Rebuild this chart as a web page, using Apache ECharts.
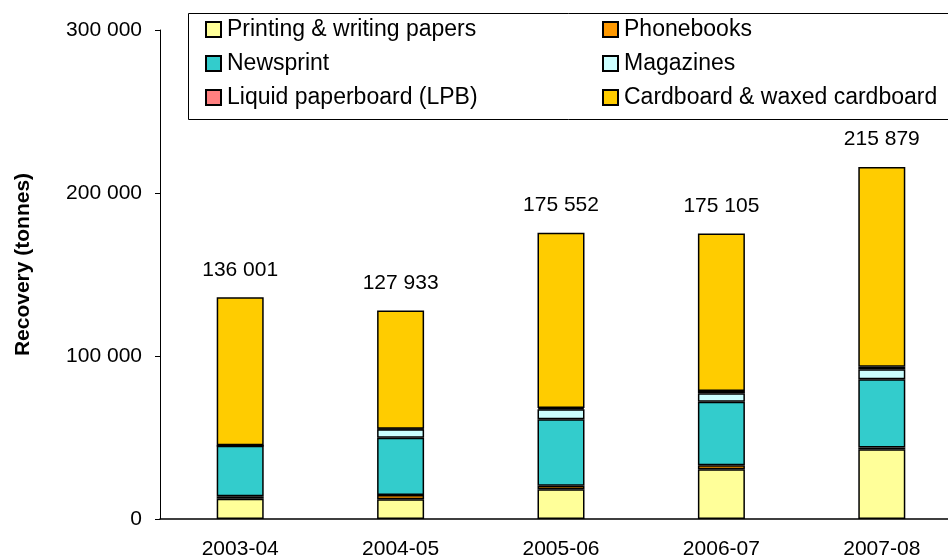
<!DOCTYPE html>
<html><head><meta charset="utf-8">
<script src="https://cdn.jsdelivr.net/npm/echarts@6/dist/echarts.min.js"></script>
<style>html,body{margin:0;padding:0;background:#fff}#c{width:948px;height:560px}</style>
</head><body><div id="c"></div>
<script>
const categories = ['2003-04','2004-05','2005-06','2006-07','2007-08'];
const printing   = [12500, 12100, 18200, 30500, 42800];
const phonebooks = [1500, 2600, 2200, 2400, 1000];
const newsprint  = [31000, 35200, 40800, 39100, 41900];
const magazines  = [0, 5100, 6100, 5100, 6100];
const lpb        = [300, 300, 800, 1400, 1600];
const cardboard  = [90701, 72633, 107452, 96605, 122479];
const totals     = ['136 001','127 933','175 552','175 105','215 879'];
const yTicks     = [0, 100000, 200000, 300000];

const FONT = 'Liberation Sans';
function mk(name, data, color, extra) {
  return Object.assign({
    name, type: 'bar', stack: 'a', data, barWidth: 47,
    itemStyle: { color, borderColor: '#000', borderWidth: 1.5 },
    emphasis: { disabled: true }
  }, extra || {});
}
const legendText = { fontSize: 23, color: '#000', fontFamily: FONT, padding: [0,0,0,1] };
const chart = echarts.init(document.getElementById('c'), null, { renderer: 'canvas' });
chart.setOption({
  animation: false,
  textStyle: { fontFamily: FONT },
  grid: { left: 160, top: 30, width: 802, height: 489, outerBoundsMode: 'none', containLabel: false },
  legend: [
    { orient: 'vertical', left: 200, top: 13, itemGap: 11, itemWidth: 15, itemHeight: 15,
      data: ['Printing & writing papers', 'Newsprint', 'Liquid paperboard (LPB)'],
      textStyle: legendText, icon: 'rect', selectedMode: false },
    { orient: 'vertical', left: 597, top: 13, itemGap: 11, itemWidth: 15, itemHeight: 15,
      data: ['Phonebooks', 'Magazines', 'Cardboard & waxed cardboard'],
      textStyle: legendText, icon: 'rect', selectedMode: false }
  ],
  graphic: [{ type: 'rect', left: 186, top: 11, shape: { width: 780, height: 106 },
    style: { fill: 'none', stroke: '#000', lineWidth: 1 }, z: 10 }],
  xAxis: {
    type: 'category', data: categories,
    axisLine: { lineStyle: { color: '#000', width: 1.5 } },
    axisTick: { show: false },
    axisLabel: { color: '#000', fontSize: 21, margin: 20, fontFamily: FONT }
  },
  yAxis: {
    type: 'value', min: yTicks[0], max: yTicks[yTicks.length - 1], interval: 100000,
    name: 'Recovery (tonnes)', nameLocation: 'middle', nameGap: 126,
    nameTextStyle: { color: '#000', fontSize: 21, fontWeight: 'bold', fontFamily: FONT,
      padding: [0, 0, 0, 20] },
    axisLine: { show: true, lineStyle: { color: '#000', width: 1 } },
    axisTick: { show: true, length: 5, lineStyle: { color: '#000' } },
    splitLine: { show: false },
    axisLabel: { color: '#000', fontSize: 21, margin: 18, fontFamily: FONT,
      formatter: v => v === 0 ? '0' : String(v).replace(/\B(?=(\d{3})+(?!\d))/g, ' ') }
  },
  series: [
    mk('Printing & writing papers', printing, '#FFFF99'),
    mk('Phonebooks', phonebooks, '#FF9900'),
    mk('Newsprint', newsprint, '#33CCCC'),
    mk('Magazines', magazines, '#CCFFFF'),
    mk('Liquid paperboard (LPB)', lpb, '#FF8080'),
    mk('Cardboard & waxed cardboard', cardboard, '#FFCC00', {
      label: { show: true, position: 'top', distance: 17, color: '#000', fontSize: 21,
        fontFamily: FONT, formatter: p => totals[p.dataIndex] }
    })
  ]
});
</script></body></html>
